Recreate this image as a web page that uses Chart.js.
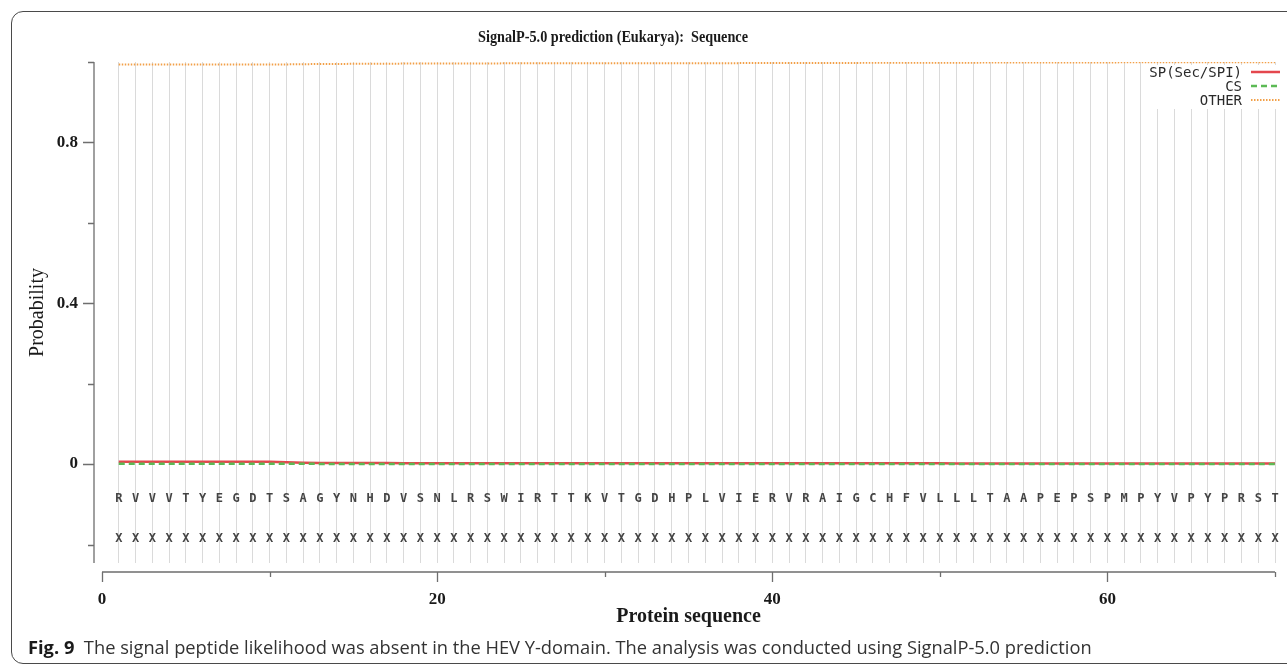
<!DOCTYPE html>
<html>
<head>
<meta charset="utf-8">
<script src="https://cdn.jsdelivr.net/npm/chart.js@4.4.1/dist/chart.umd.min.js"></script>
<style>
html,body{margin:0;padding:0;background:#fff;overflow:hidden;}
#wrap{position:relative;width:1287px;height:667px;overflow:hidden;}
#frame{position:absolute;left:11px;top:11px;width:1310px;height:653px;border:1.5px solid #4a4a4a;border-radius:12px;box-sizing:border-box;}
#c{position:absolute;left:0;top:0;}
#caption{position:absolute;left:28px;top:634px;font-family:"Open Sans",sans-serif;font-size:18.3px;color:#333;white-space:nowrap;}
#caption b{color:#1a1a1a;font-weight:700;}
</style>
</head>
<body>
<div id="wrap">
  <div id="frame"></div>
  <canvas id="c" width="1287" height="667"></canvas>
  <div id="caption"><b>Fig. 9</b>&nbsp; The signal peptide likelihood was absent in the HEV Y-domain. The analysis was conducted using SignalP-5.0 prediction</div>
</div>
<script>
// ---------- data ----------
const chartTitle = 'SignalP-5.0 prediction (Eukarya):  Sequence';
const positions = [1,2,3,4,5,6,7,8,9,10,11,12,13,14,15,16,17,18,19,20,21,22,23,24,25,26,27,28,29,30,31,32,33,34,35,36,37,38,39,40,41,42,43,44,45,46,47,48,49,50,51,52,53,54,55,56,57,58,59,60,61,62,63,64,65,66,67,68,69,70];
const sequence = 'RVVVTYEGDTSAGYNHDVSNLRSWIRTTKVTGDHPLVIERVRAIGCHFVLLLTAAPEPSPMPYVPYPRST'.split('');
const annotation = 'XXXXXXXXXXXXXXXXXXXXXXXXXXXXXXXXXXXXXXXXXXXXXXXXXXXXXXXXXXXXXXXXXXXXXX'.split('');
const spValues = [0.006,0.006,0.006,0.006,0.006,0.006,0.006,0.006,0.006,0.0056,
  0.0046,0.0035,0.003,0.0028,0.0026,0.0025,0.0024,0.0023,0.0022,0.0022,
  0.0021,0.0021,0.002,0.002,0.002,0.002,0.002,0.002,0.002,0.002,
  0.002,0.002,0.002,0.002,0.0019,0.0019,0.0019,0.0019,0.0019,0.0019,
  0.0018,0.0018,0.0018,0.0018,0.0018,0.0018,0.0018,0.0018,0.0018,0.0018,
  0.0017,0.0017,0.0017,0.0017,0.0017,0.0017,0.0017,0.0017,0.0017,0.0017,
  0.0016,0.0016,0.0016,0.0016,0.0016,0.0016,0.0016,0.0016,0.0016,0.0016];
const csValues = [0.0008,0.0008,0.0008,0.0008,0.0008,0.0008,0.0008,0.0008,0.0008,0.0008,
  0.0007,0.0006,0.0005,0.0005,0.0005,0.0005,0.0005,0.0005,0.0005,0.0005,
  0.0005,0.0005,0.0005,0.0005,0.0005,0.0005,0.0005,0.0005,0.0005,0.0005,
  0.0005,0.0005,0.0005,0.0005,0.0005,0.0005,0.0005,0.0005,0.0005,0.0005,
  0.0005,0.0005,0.0005,0.0005,0.0005,0.0005,0.0005,0.0005,0.0005,0.0005,
  0.0005,0.0005,0.0005,0.0005,0.0005,0.0005,0.0005,0.0005,0.0005,0.0005,
  0.0005,0.0005,0.0005,0.0005,0.0005,0.0005,0.0005,0.0005,0.0005,0.0005];
const otherValues = [0.9935,0.9935,0.9935,0.9935,0.9935,0.9935,0.9935,0.9936,0.9937,0.9938,
  0.994,0.9945,0.995,0.9952,0.9954,0.9956,0.9958,0.996,0.9961,0.9962,
  0.9963,0.9964,0.9965,0.9966,0.9966,0.9967,0.9967,0.9968,0.9968,0.9969,
  0.9969,0.997,0.997,0.997,0.9971,0.9971,0.9972,0.9972,0.9973,0.9973,
  0.9974,0.9975,0.9976,0.9977,0.9978,0.9979,0.998,0.998,0.9981,0.9982,
  0.9983,0.9984,0.9985,0.9986,0.9987,0.9988,0.9988,0.9989,0.999,0.999,
  0.9991,0.9991,0.9992,0.9992,0.9993,0.9993,0.9994,0.9994,0.9995,0.9995];
const seriesLabels = ['SP(Sec/SPI)', 'CS', 'OTHER'];
const yTickValues = [-0.2, 0, 0.2, 0.4, 0.6, 0.8, 1.0];
const yTickLabels = ['', '0', '', '0.4', '', '0.8', ''];
const xTickLabels = {0:'0', 20:'20', 40:'40', 60:'60'};

// ---------- styles ----------
const RED = '#e4474d', GREEN = '#5cba55', ORANGE = '#f2a048';
const AXIS = '#6e6e6e', GRID = '#dadada';
const SERIF = '"Liberation Serif", "Times New Roman", serif';
const MONO = '"DejaVu Sans Mono", monospace';

const decor = {
  id: 'decor',
  beforeDatasetsDraw(chart) {
    const {ctx, scales: {x, y}} = chart;
    ctx.save();
    ctx.fillStyle = '#444';
    ctx.font = 'bold 12px ' + MONO;
    ctx.textAlign = 'center';
    ctx.textBaseline = 'middle';
    const ySeq = y.getPixelForValue(-0.087);
    const yAnn = y.getPixelForValue(-0.186);
    positions.forEach((p, i) => {
      const px = x.getPixelForValue(p);
      ctx.fillText(sequence[i], px, ySeq);
      ctx.fillText(annotation[i], px, yAnn);
    });
    ctx.restore();
  },
  afterDraw(chart) {
    const {ctx, chartArea: ca, scales: {x, y}} = chart;
    ctx.save();
    // title (slightly condensed serif)
    ctx.save();
    ctx.fillStyle = '#1a1a1a';
    ctx.font = 'bold 16px ' + SERIF;
    ctx.textAlign = 'center';
    ctx.textBaseline = 'middle';
    ctx.translate(613, 38);
    ctx.scale(0.89, 1);
    ctx.fillText(chartTitle, 0, 0);
    ctx.restore();

    // y axis line + ticks (offset R-style)
    ctx.strokeStyle = AXIS;
    ctx.lineWidth = 1.3;
    const ax = ca.left - 8;
    ctx.beginPath();
    ctx.moveTo(ax, y.getPixelForValue(1.0));
    ctx.lineTo(ax, ca.bottom);
    yTickValues.forEach((v, i) => {
      const py = Math.round(y.getPixelForValue(v)) + 0.5;
      const len = yTickLabels[i] ? 11 : 6;
      ctx.moveTo(ax, py);
      ctx.lineTo(ax - len, py);
    });
    ctx.stroke();

    // x axis line + ticks
    const ay = ca.bottom + 9;
    ctx.beginPath();
    ctx.moveTo(x.getPixelForValue(0), ay);
    ctx.lineTo(x.getPixelForValue(70), ay);
    for (let v = 0; v <= 70; v += 10) {
      const px = Math.round(x.getPixelForValue(v)) + 0.5;
      const len = xTickLabels[v] ? 10 : 5;
      ctx.moveTo(px, ay);
      ctx.lineTo(px, ay + len);
    }
    ctx.stroke();

    // legend
    const ds = chart.data.datasets;
    const textRight = ca.right - 33;
    const rowTop = ca.top + 10;
    const rowH = 14;
    ctx.font = '14px ' + MONO;
    let maxW = 0;
    ds.forEach(d => { maxW = Math.max(maxW, ctx.measureText(d.label).width); });
    ctx.fillStyle = '#ffffff';
    ctx.fillRect(textRight - maxW - 4, rowTop - 7, maxW + 45, rowH * ds.length + 2);
    ds.forEach((d, i) => {
      const cy = rowTop + i * rowH;
      ctx.fillStyle = '#2a2a2a';
      ctx.textAlign = 'right';
      ctx.textBaseline = 'middle';
      ctx.fillText(d.label, textRight, cy + 1);
      ctx.strokeStyle = d.borderColor;
      ctx.lineWidth = d.borderWidth;
      ctx.setLineDash(d.borderDash || []);
      ctx.beginPath();
      ctx.moveTo(textRight + 9, cy);
      ctx.lineTo(textRight + 38, cy);
      ctx.stroke();
      ctx.setLineDash([]);
    });
    ctx.restore();
  }
};

new Chart(document.getElementById('c'), {
  type: 'line',
  data: {
    labels: positions,
    datasets: [
      {label: seriesLabels[0], data: positions.map((p, i) => ({x: p, y: spValues[i]})),
       borderColor: RED, borderWidth: 2.5, pointRadius: 0, fill: false, tension: 0, order: 3},
      {label: seriesLabels[1], data: positions.map((p, i) => ({x: p, y: csValues[i]})),
       borderColor: GREEN, borderWidth: 2.5, borderDash: [6, 4], pointRadius: 0, fill: false, tension: 0, order: 2},
      {label: seriesLabels[2], data: positions.map((p, i) => ({x: p, y: otherValues[i]})),
       borderColor: ORANGE, borderWidth: 2, borderDash: [1.5, 1.5], pointRadius: 0, fill: false, tension: 0, order: 1}
    ]
  },
  options: {
    responsive: false,
    animation: false,
    devicePixelRatio: 1,
    layout: {padding: {left: 0, right: 12, top: 62, bottom: 0}},
    plugins: {legend: {display: false}, title: {display: false}, tooltip: {enabled: false}},
    scales: {
      x: {
        type: 'linear', min: 0, max: 70,
        afterBuildTicks: s => { s.ticks = [0].concat(positions).map(v => ({value: v})); },
        afterFit: s => { s.height = 104; },
        border: {display: false},
        grid: {
          drawTicks: true, tickLength: 24, tickColor: 'rgba(0,0,0,0)',
          color: c => (c.tick && c.tick.value >= 1) ? GRID : 'rgba(0,0,0,0)',
          lineWidth: 1
        },
        ticks: {
          autoSkip: false, maxRotation: 0, padding: 2,
          color: '#1a1a1a',
          font: {family: SERIF, size: 17, weight: 'bold'},
          callback: v => xTickLabels[v] || ''
        },
        title: {display: true, text: 'Protein sequence', color: '#1a1a1a',
          font: {family: SERIF, size: 20, weight: 'bold'}, padding: {top: 0, bottom: 38}}
      },
      y: {
        type: 'linear', min: -0.246, max: 1.0,
        afterBuildTicks: s => { s.ticks = yTickValues.map(v => ({value: v})); },
        afterFit: s => { s.width = 102; },
        border: {display: false},
        grid: {display: false, drawTicks: false},
        ticks: {
          padding: 24, color: '#1a1a1a',
          font: {family: SERIF, size: 17, weight: 'bold'},
          callback: v => { const i = yTickValues.findIndex(t => Math.abs(t - v) < 1e-9); return i >= 0 ? yTickLabels[i] : ''; }
        },
        title: {display: true, text: 'Probability', color: '#1a1a1a',
          font: {family: SERIF, size: 20, weight: 'normal'}, padding: {top: 26, bottom: 0}}
      }
    }
  },
  plugins: [decor]
});
</script>
</body>
</html>
